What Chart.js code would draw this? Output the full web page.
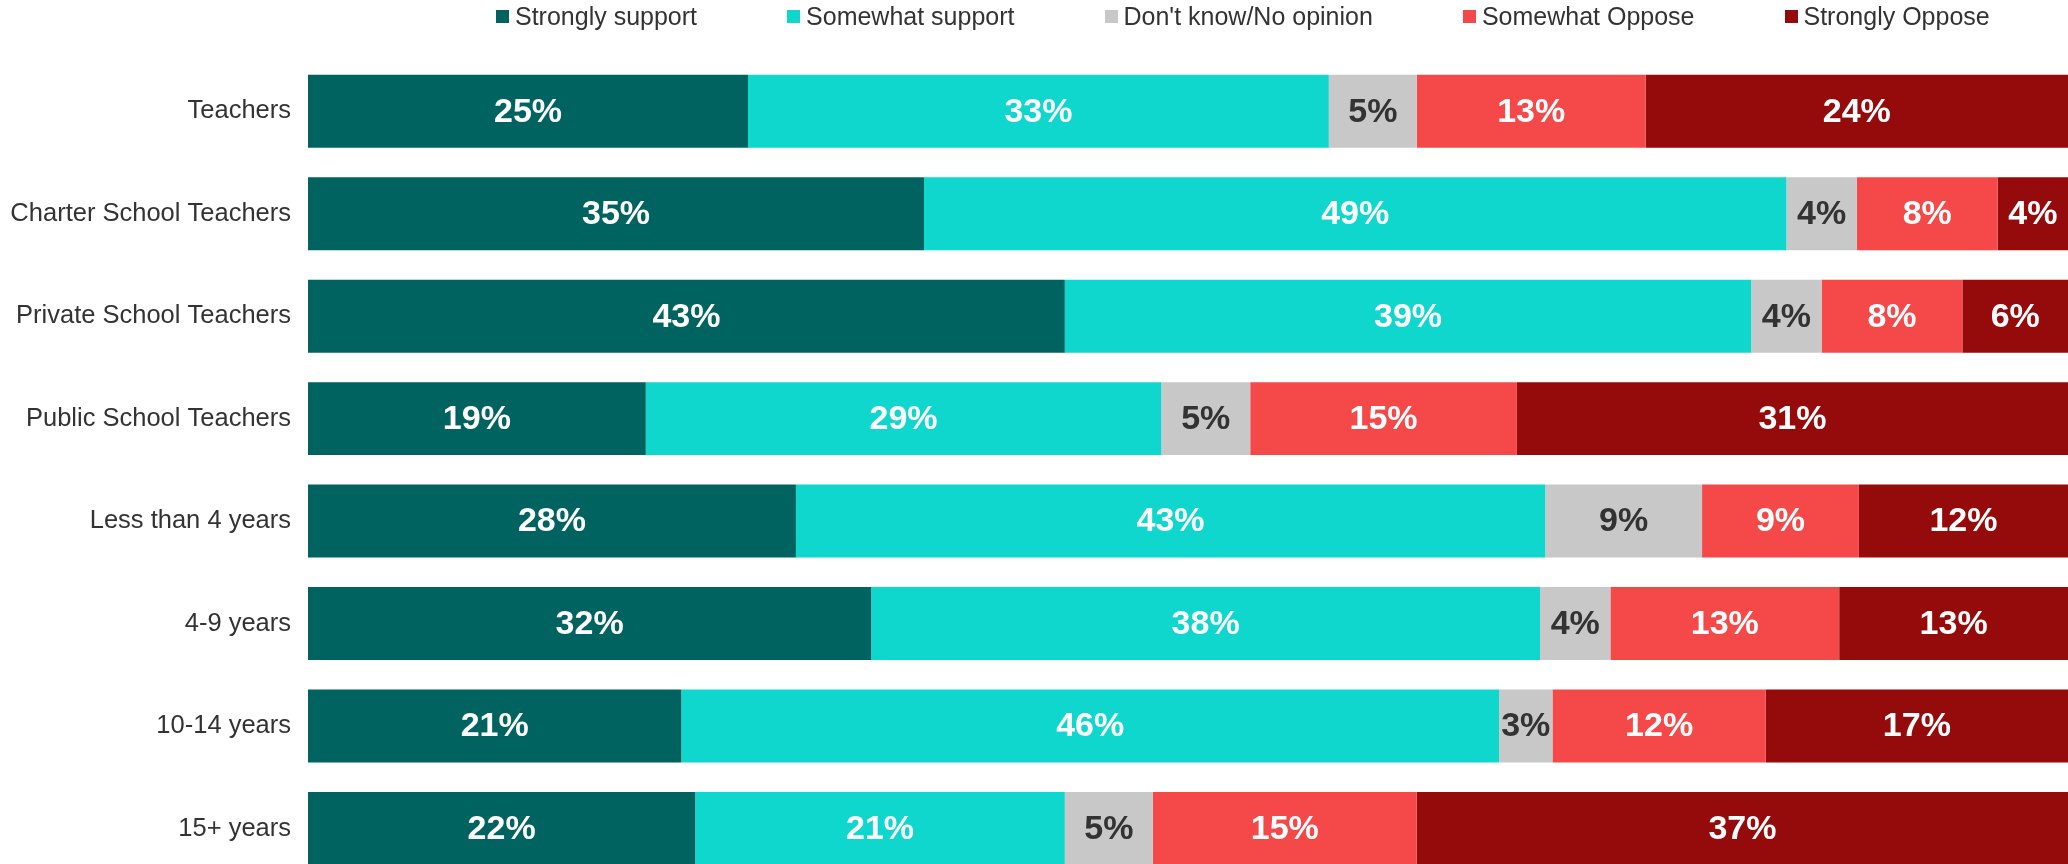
<!DOCTYPE html>
<html lang="en">
<head>
  <meta charset="UTF-8">
  <title>Support by teacher group</title>
  <script src="https://cdn.jsdelivr.net/npm/chart.js"></script>
  <style>
    html, body {
      margin: 0;
      padding: 0;
      background: #fff;
      overflow: hidden;
      height: 864px;
      font-family: "Liberation Sans", Arial, sans-serif;
    }
    .legend {
      position: absolute;
      top: 0;
      left: 496px;
      display: flex;
      gap: 90px;
      z-index: 2;
    }
    .legend-item {
      display: flex;
      align-items: center;
      height: 32px;
      font-size: 25px;
      color: #333;
      white-space: nowrap;
    }
    .legend-box {
      width: 13px;
      height: 13px;
      margin-right: 6px;
    }
    #chart {
      position: absolute;
      top: 0;
      left: 0;
    }
  </style>
</head>
<body>

<div class="legend" id="legend"></div>
<canvas id="chart" width="2068" height="912"></canvas>

<script>
const categories = [
  'Teachers',
  'Charter School Teachers',
  'Private School Teachers',
  'Public School Teachers',
  'Less than 4 years',
  '4-9 years',
  '10-14 years',
  '15+ years'
];

const seriesNames = ['Strongly support', 'Somewhat support', "Don't know/No opinion", 'Somewhat Oppose', 'Strongly Oppose'];

const stronglySupport = [25, 35, 43, 19, 28, 32, 21, 22];
const somewhatSupport = [33, 49, 39, 29, 43, 38, 46, 21];
const dontKnow        = [5, 4, 4, 5, 9, 4, 3, 5];
const somewhatOppose  = [13, 8, 8, 15, 9, 13, 12, 15];
const stronglyOppose  = [24, 4, 6, 31, 12, 13, 17, 37];

const colors = ['#006360', '#0fd7ce', '#c8c8c8', '#f54848', '#950a0a'];
const labelColors = ['#ffffff', '#ffffff', '#333333', '#ffffff', '#ffffff'];

const allSeries = [stronglySupport, somewhatSupport, dontKnow, somewhatOppose, stronglyOppose];

// rows are drawn as 100% bars, so scale each row by its total
const rowTotals = categories.map((_, i) => allSeries.reduce((s, arr) => s + arr[i], 0));

// html legend
const legend = document.getElementById('legend');
seriesNames.forEach((name, i) => {
  const item = document.createElement('div');
  item.className = 'legend-item';
  const box = document.createElement('span');
  box.className = 'legend-box';
  box.style.background = colors[i];
  item.appendChild(box);
  item.appendChild(document.createTextNode(name));
  legend.appendChild(item);
});

// labels in the middle of each segment
const segmentLabels = {
  id: 'segmentLabels',
  afterDatasetsDraw(chart) {
    const ctx = chart.ctx;
    ctx.save();
    ctx.font = 'bold 34px "Liberation Sans", Arial, sans-serif';
    ctx.textAlign = 'center';
    ctx.textBaseline = 'middle';
    chart.data.datasets.forEach((ds, di) => {
      const meta = chart.getDatasetMeta(di);
      meta.data.forEach((bar, i) => {
        const { x, y, base } = bar.getProps(['x', 'y', 'base'], true);
        ctx.fillStyle = labelColors[di];
        ctx.fillText(ds.raw[i] + '%', (x + base) / 2, y + 1);
      });
    });
    ctx.restore();
  }
};

new Chart(document.getElementById('chart'), {
  type: 'bar',
  data: {
    labels: categories,
    datasets: allSeries.map((arr, di) => ({
      label: seriesNames[di],
      raw: arr,
      data: arr.map((v, i) => v / rowTotals[i] * 100),
      backgroundColor: colors[di],
      borderWidth: 0,
      categoryPercentage: 1,
      barPercentage: 0.712
    }))
  },
  options: {
    indexAxis: 'y',
    responsive: false,
    animation: false,
    layout: { padding: { top: 60, right: 0, bottom: 0, left: 0 } },
    plugins: {
      legend: { display: false },
      tooltip: { enabled: false }
    },
    scales: {
      x: {
        stacked: true,
        min: 0,
        max: 100,
        display: false
      },
      y: {
        stacked: true,
        grid: { display: false, drawTicks: false },
        border: { display: false },
        ticks: {
          padding: 17,
          color: '#333',
          font: { size: 25.5, family: '"Liberation Sans", Arial, sans-serif' }
        },
        afterFit(scale) { scale.width = 308; }
      }
    }
  },
  plugins: [segmentLabels]
});
</script>
</body>
</html>
